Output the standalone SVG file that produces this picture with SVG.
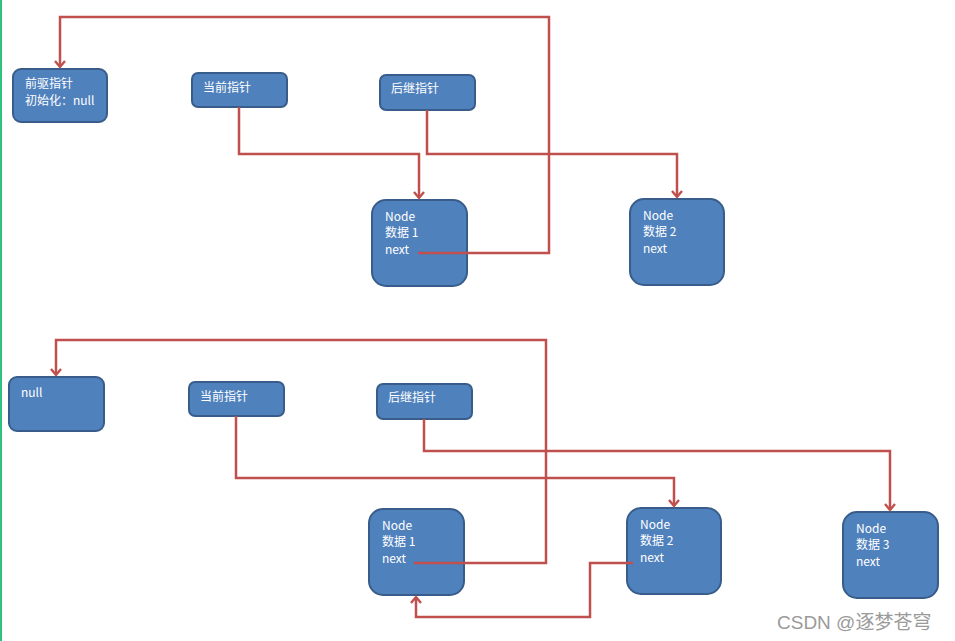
<svg xmlns="http://www.w3.org/2000/svg" width="955" height="641" viewBox="0 0 955 641">
<defs>
<marker id="ah" markerWidth="12" markerHeight="12" refX="9" refY="6" orient="auto" markerUnits="userSpaceOnUse" viewBox="0 0 12 12">
<path d="M3,1 L9,6 L3,11" fill="none" stroke="#c0504d" stroke-width="2.4"/>
</marker>
</defs>
<style>
.b{fill:#4f81bd;stroke:#385d8a;stroke-width:2}
.t{font-family:"Noto Sans CJK SC","Liberation Sans",sans-serif;font-size:12px;fill:#ffffff}
.c{fill:none;stroke:#c0504d;stroke-width:2.5;stroke-linejoin:miter}
.w{font-family:"Liberation Sans","Noto Sans CJK SC",sans-serif;font-size:19px;fill:#9a9a9a}
</style>
<rect x="0" y="0" width="955" height="641" fill="#ffffff"/>
<line x1="1" y1="0" x2="1" y2="641" stroke="#2ec27e" stroke-width="2"/>

<g id="prev1"><rect class="b" x="13" y="69" width="94" height="53" rx="8"/><text class="t" x="25" y="88">前驱指针</text><text class="t" x="25" y="105">初始化：null</text></g>
<g id="cur1"><rect class="b" x="192" y="73" width="95" height="34" rx="6"/><text class="t" x="203" y="92">当前指针</text></g>
<g id="next1"><rect class="b" x="380" y="75" width="95" height="35" rx="6"/><text class="t" x="391" y="93">后继指针</text></g>
<g id="n1a"><rect class="b" x="372" y="200" width="95" height="86" rx="14"/><text class="t" x="385" y="221">Node</text><text class="t" x="385" y="237">数据 1</text><text class="t" x="385" y="254">next</text></g>
<g id="n2a"><rect class="b" x="630" y="199" width="94" height="86" rx="14"/><text class="t" x="643" y="220">Node</text><text class="t" x="643" y="236">数据 2</text><text class="t" x="643" y="253">next</text></g>

<g id="null2"><rect class="b" x="9" y="377" width="95" height="54" rx="8"/><text class="t" x="21" y="397">null</text></g>
<g id="cur2"><rect class="b" x="189" y="382" width="95" height="34" rx="6"/><text class="t" x="200" y="401">当前指针</text></g>
<g id="next2"><rect class="b" x="377" y="384" width="95" height="35" rx="6"/><text class="t" x="388" y="402">后继指针</text></g>
<g id="n1b"><rect class="b" x="369" y="509" width="95" height="86" rx="14"/><text class="t" x="382" y="530">Node</text><text class="t" x="382" y="546">数据 1</text><text class="t" x="382" y="563">next</text></g>
<g id="n2b"><rect class="b" x="627" y="508" width="94" height="86" rx="14"/><text class="t" x="640" y="529">Node</text><text class="t" x="640" y="545">数据 2</text><text class="t" x="640" y="562">next</text></g>
<g id="n3b"><rect class="b" x="843" y="512" width="95" height="86" rx="14"/><text class="t" x="856" y="533">Node</text><text class="t" x="856" y="549">数据 3</text><text class="t" x="856" y="566">next</text></g>

<g id="connectors">
<path class="c" d="M239,107 V154 H419 V198" marker-end="url(#ah)"/>
<path class="c" d="M427,110 V154 H677 V197" marker-end="url(#ah)"/>
<path class="c" d="M418,253 H549 V17 H60 V67" marker-end="url(#ah)"/>
<path class="c" d="M414,563 H546 V340 H56 V375" marker-end="url(#ah)"/>
<path class="c" d="M236,416 V478 H674 V506" marker-end="url(#ah)"/>
<path class="c" d="M424,419 V451 H890 V510" marker-end="url(#ah)"/>
<path class="c" d="M633,563 H590 V617 H416 V597" marker-end="url(#ah)"/>
</g>
<text class="w" x="777" y="629">CSDN @逐梦苍穹</text>
</svg>
